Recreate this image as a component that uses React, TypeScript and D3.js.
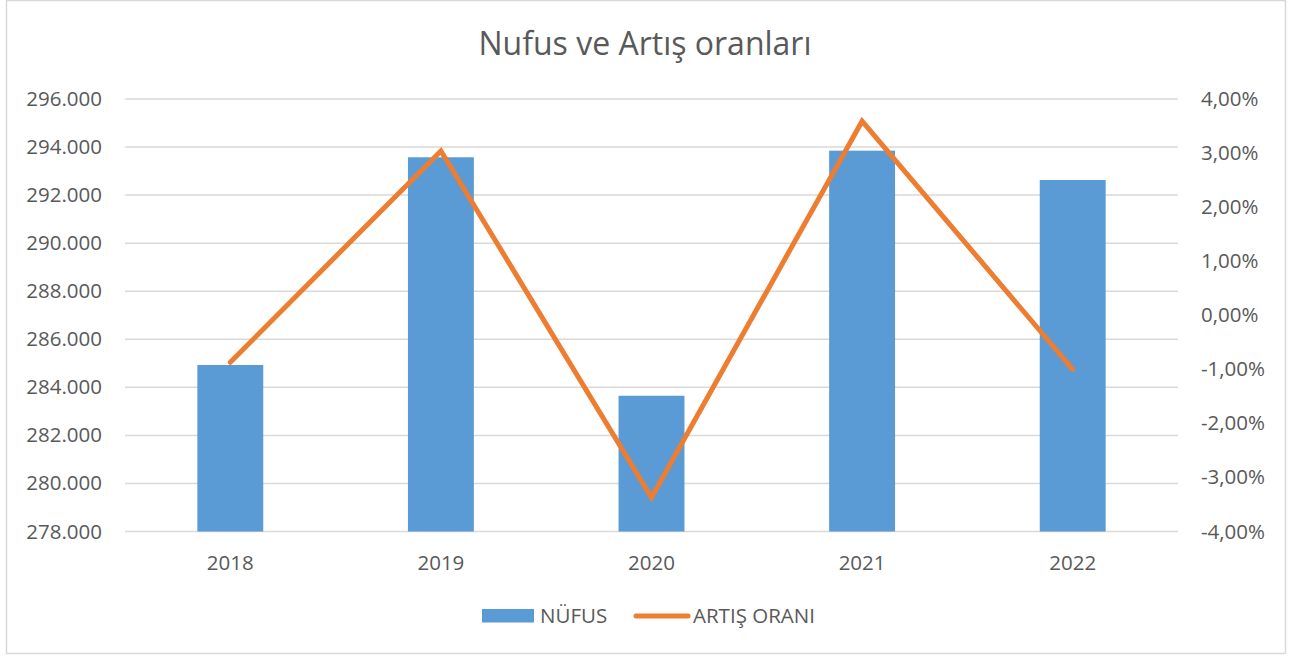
import React, { useEffect, useRef } from 'react';
import * as d3 from 'd3';

const years = ['2018', '2019', '2020', '2021', '2022'];
const nufus = [284930, 293575, 283650, 293850, 292630];
const artisOrani = [-0.87, 3.04, -3.37, 3.59, -1.0];
const leftTicks = [278000, 280000, 282000, 284000, 286000, 288000, 290000, 292000, 294000, 296000];
const rightTicks = [-4, -3, -2, -1, 0, 1, 2, 3, 4];

const FONT = '"Open Sans", "Liberation Sans", sans-serif';
const TEXT = '#595959';
const BLUE = '#5B9BD5';
const ORANGE = '#ED7D31';
const GRID = '#D9D9D9';

const fmtLeft = (v: number) => d3.format(',')(v).replace(/,/g, '.');
const fmtRight = (v: number) => v.toFixed(2).replace('.', ',') + '%';

const App = () => {
  const svgRef = useRef<SVGSVGElement | null>(null);

  useEffect(() => {
    const svg = d3.select(svgRef.current);
    if (!svgRef.current) return;
    svg.selectAll('*').remove();

    const W = 1302;
    const H = 657;
    const plot = { left: 125, right: 1178, top: 99, bottom: 531.5 };

    svg.attr('width', W).attr('height', H);

    // chart area border
    svg.append('rect')
      .attr('x', 6.5).attr('y', 0.5)
      .attr('width', 1279).attr('height', 653)
      .attr('fill', '#fff')
      .attr('stroke', GRID)
      .attr('stroke-width', 1.5);

    svg.append('text')
      .attr('x', 645).attr('y', 55)
      .attr('text-anchor', 'middle')
      .attr('font-family', FONT)
      .attr('font-size', 32)
      .attr('fill', TEXT)
      .text('Nufus ve Artış oranları');

    const x = d3.scaleBand().domain(years).range([plot.left, plot.right]).paddingInner(0.687).paddingOuter(0.3435);
    const xc = d3.scaleBand().domain(years).range([plot.left, plot.right]);
    const yL = d3.scaleLinear().domain([278000, 296000]).range([plot.bottom, plot.top]);
    const yR = d3.scaleLinear().domain([-4, 4]).range([plot.bottom, plot.top]);

    // gridlines
    svg.append('g')
      .selectAll('line')
      .data(leftTicks)
      .join('line')
      .attr('x1', plot.left).attr('x2', plot.right)
      .attr('y1', d => yL(d)).attr('y2', d => yL(d))
      .attr('stroke', GRID)
      .attr('stroke-width', 1.5);

    // left axis labels
    svg.append('g')
      .selectAll('text')
      .data(leftTicks)
      .join('text')
      .attr('x', 102).attr('y', d => yL(d) + 7)
      .attr('text-anchor', 'end')
      .attr('font-family', FONT)
      .attr('font-size', 20.5)
      .attr('fill', TEXT)
      .text(d => fmtLeft(d));

    // right axis labels
    svg.append('g')
      .selectAll('text')
      .data(rightTicks)
      .join('text')
      .attr('x', 1201).attr('y', d => yR(d) + 7)
      .attr('text-anchor', 'start')
      .attr('font-family', FONT)
      .attr('font-size', 20.5)
      .attr('fill', TEXT)
      .text(d => fmtRight(d));

    // bars
    svg.append('g')
      .selectAll('rect')
      .data(years)
      .join('rect')
      .attr('x', (d) => x(d)!)
      .attr('width', x.bandwidth())
      .attr('y', (d, i) => yL(nufus[i]))
      .attr('height', (d, i) => yL(278000) - yL(nufus[i]))
      .attr('fill', BLUE);

    // line
    const line = d3.line<number>()
      .x((d, i) => xc(years[i])! + xc.bandwidth() / 2)
      .y(d => yR(d));

    svg.append('path')
      .datum(artisOrani)
      .attr('d', line)
      .attr('fill', 'none')
      .attr('stroke', ORANGE)
      .attr('stroke-width', 5)
      .attr('stroke-linecap', 'round')
      .attr('stroke-linejoin', 'miter');

    // x labels
    svg.append('g')
      .selectAll('text')
      .data(years)
      .join('text')
      .attr('x', d => xc(d)! + xc.bandwidth() / 2)
      .attr('y', 570)
      .attr('text-anchor', 'middle')
      .attr('font-family', FONT)
      .attr('font-size', 20.5)
      .attr('fill', TEXT)
      .text(d => d);

    // legend
    const lg = svg.append('g');
    lg.append('rect')
      .attr('x', 482).attr('y', 609)
      .attr('width', 52).attr('height', 13.5)
      .attr('fill', BLUE);
    lg.append('text')
      .attr('x', 540).attr('y', 623)
      .attr('font-family', FONT)
      .attr('font-size', 20.5)
      .attr('fill', TEXT)
      .text('NÜFUS');
    lg.append('line')
      .attr('x1', 636).attr('x2', 688)
      .attr('y1', 616).attr('y2', 616)
      .attr('stroke', ORANGE)
      .attr('stroke-width', 5)
      .attr('stroke-linecap', 'round');
    lg.append('text')
      .attr('x', 693).attr('y', 623)
      .attr('font-family', FONT)
      .attr('font-size', 20.5)
      .attr('fill', TEXT)
      .text('ARTIŞ ORANI');
  }, []);

  return (
    <svg ref={svgRef} style={{ position: 'absolute', left: 0, top: 0, display: 'block' }}></svg>
  );
};

export default App;
